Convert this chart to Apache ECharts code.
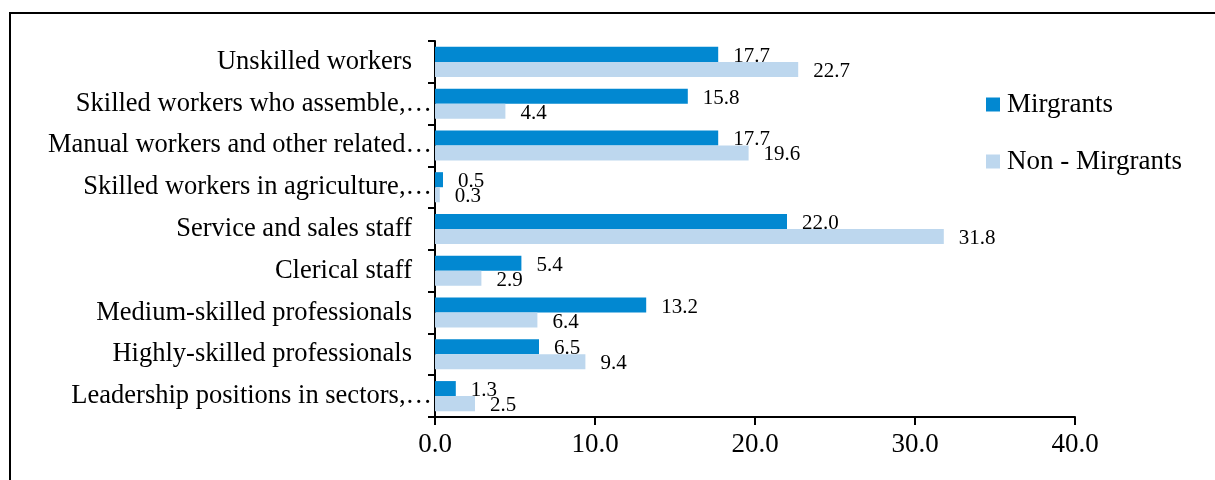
<!DOCTYPE html>
<html>
<head>
<meta charset="utf-8">
<script src="https://cdn.jsdelivr.net/npm/echarts@6/dist/echarts.min.js"></script>
<style>
  html, body { margin: 0; padding: 0; background: #fff; }
  #chart-container { width: 1215px; height: 480px; }
</style>
</head>
<body>
<div id="chart-container"></div>
<script>
// categories, top to bottom as in the figure
let categories = [
  'Unskilled workers',
  'Skilled workers who assemble,…',
  'Manual workers and other related…',
  'Skilled workers in agriculture,…',
  'Service and sales staff',
  'Clerical staff',
  'Medium-skilled professionals',
  'Highly-skilled professionals',
  'Leadership positions in sectors,…'
];
let migrants = [17.7, 15.8, 17.7, 0.5, 22.0, 5.4, 13.2, 6.5, 1.3];
let nonMigrants = [22.7, 4.4, 19.6, 0.3, 31.8, 2.9, 6.4, 9.4, 2.5];
let xTicks = [0, 10, 20, 30, 40];

let font = '"Liberation Serif", "Times New Roman", serif';

let dom = document.getElementById('chart-container');
let myChart = echarts.init(dom, null, { renderer: 'canvas' });

let barLabel = {
  show: true,
  position: 'right',
  distance: 15,
  offset: [0, 2],
  color: '#000',
  fontFamily: font,
  fontSize: 21,
  formatter: p => p.value.toFixed(1)
};

let option = {
  animation: false,
  backgroundColor: '#fff',
  textStyle: { fontFamily: font, color: '#000' },
  graphic: [
    {
      type: 'rect',
      shape: { x: 10, y: 13, width: 1300, height: 600 },
      style: { fill: 'none', stroke: '#000', lineWidth: 2 },
      silent: true
    }
  ],
  grid: { left: 435, right: 140, top: 41, bottom: 63 },
  legend: {
    orient: 'vertical',
    left: 981,
    top: 86,
    itemWidth: 14,
    itemHeight: 14,
    itemGap: 30,
    icon: 'rect',
    textStyle: { fontFamily: font, fontSize: 27, color: '#000', padding: [0, 0, 0, 2] },
    data: ['Mirgrants', 'Non - Mirgrants']
  },
  xAxis: {
    type: 'value',
    min: xTicks[0],
    max: xTicks[xTicks.length - 1],
    interval: 10,
    axisLine: { show: true, lineStyle: { color: '#000', width: 2 } },
    axisTick: { show: true, length: 8, lineStyle: { color: '#000', width: 2 } },
    splitLine: { show: false },
    axisLabel: {
      margin: 14,
      color: '#000',
      fontFamily: font,
      fontSize: 27,
      formatter: v => v.toFixed(1)
    }
  },
  yAxis: {
    type: 'category',
    inverse: true,
    data: categories,
    axisLine: { show: true, lineStyle: { color: '#000', width: 2 } },
    axisTick: { show: true, length: 7, lineStyle: { color: '#000', width: 2 } },
    axisLabel: {
      margin: 3,
      color: '#000',
      fontFamily: font,
      fontSize: 26.5,
      formatter: v => v.endsWith('…') ? v : '{p|' + v + '}',
      rich: {
        p: { fontFamily: font, fontSize: 26.5, color: '#000', padding: [0, 20, 0, 0] }
      }
    }
  },
  series: [
    {
      name: 'Mirgrants',
      type: 'bar',
      data: migrants,
      barGap: '0%',
      barCategoryGap: '28%',
      itemStyle: { color: '#0288d1' },
      label: barLabel
    },
    {
      name: 'Non - Mirgrants',
      type: 'bar',
      data: nonMigrants,
      barGap: '0%',
      barCategoryGap: '28%',
      itemStyle: { color: '#bdd7ee' },
      label: barLabel
    }
  ]
};

myChart.setOption(option);
window.addEventListener('resize', myChart.resize);
</script>
</body>
</html>
